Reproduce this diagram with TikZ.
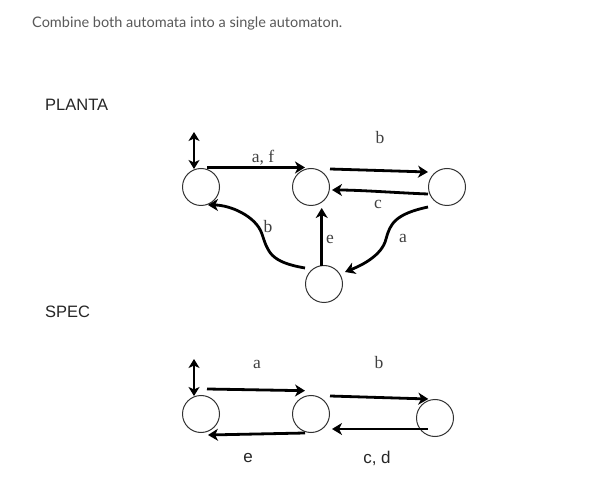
\documentclass[tikz,border=0pt]{standalone}
\usepackage{fontspec}
\setmainfont{Liberation Serif}
\newfontfamily\titlefont{Lato}
\newfontfamily\arialfont{Liberation Sans}
\usetikzlibrary{arrows.meta}
\begin{document}
\begin{tikzpicture}[x=1pt,y=1pt,
  state/.style={circle,draw=black!80,line width=1pt,minimum size=37pt,inner sep=0pt},
  edge/.style={line width=2.8pt,-{Stealth[length=10pt,width=12pt,inset=3pt]}},
  initarrow/.style={line width=2.8pt,{Stealth[length=9pt,width=11pt,inset=2.5pt]}-{Stealth[length=9pt,width=11pt,inset=2.5pt]}},
  lbl/.style={font=\fontsize{17.5}{19}\selectfont,text=black!75,inner sep=0pt},
  slbl/.style={font=\arialfont\fontsize{17}{19}\selectfont,text=black!85,inner sep=0pt},
  head/.style={font=\arialfont\fontsize{16.5}{18}\selectfont,text=black!85,inner sep=0pt,anchor=west}
]
\useasboundingbox (0,0) rectangle (601,484);
\fill[white] (0,0) rectangle (601,484);

\node[font=\titlefont\fontsize{14.5}{16}\selectfont,text=black!65,anchor=west,inner sep=0pt] (title) at (32,461) {Combine both automata into a single automaton.};
\node[head] (planta) at (45,379) {PLANTA};
\node[head] (spec) at (45,172) {SPEC};

% PLANTA
\node[state] (S0) at (201,297) {};
\node[state] (S1) at (311,297) {};
\node[state] (S2) at (447,297) {};
\node[state] (S3) at (324,200) {};
\coordinate (i0) at (194,352);
\draw[initarrow] (i0) -- ([shift={(-7,18)}]S0.center);

\draw[edge] ([shift={(6,19.5)}]S0.center) -- ([shift={(-6,19.5)}]S1.center);
\draw[edge] ([shift={(19,18)}]S1.center) -- ([shift={(-19,15)}]S2.center);
\draw[edge] ([shift={(-19,-7)}]S2.center) .. controls (400,291) and (360,294) .. ([shift={(21,-3)}]S1.center);
\draw[edge] ([shift={(-2.3,17.5)}]S3.center) -- ([shift={(10.7,-21)}]S1.center);
\draw[edge] ([shift={(-19,16)}]S3.center) .. controls (270,222) and (268,232) .. (262,250) .. controls (256,268) and (230,279) .. ([shift={(7,-18)}]S0.center);
\draw[edge] ([shift={(-19,-20)}]S2.center) .. controls (395,270) and (390,260) .. (386,245) .. controls (382,228) and (360,218) .. ([shift={(21,12)}]S3.center);

\node[lbl] (laf) at (263,326) {a, f};
\node[lbl] (lb1) at (380,346) {b};
\node[lbl] (lc) at (378,280) {c};
\node[lbl] (lb2) at (268,257) {b};
\node[lbl] (le) at (330,245) {e};
\node[lbl] (la) at (403,246) {a};

% SPEC
\node[state] (T0) at (201,70) {};
\node[state] (T1) at (311,70) {};
\node[state] (T2) at (435,66) {};
\coordinate (i1) at (194,125);
\draw[initarrow] (i1) -- ([shift={(-7,18)}]T0.center);

\draw[edge] ([shift={(6,25)}]T0.center) -- ([shift={(-6,23.3)}]T1.center);
\draw[edge] ([shift={(19,18)}]T1.center) -- ([shift={(-6.7,19)}]T2.center);
\draw[edge] ([shift={(-6,-19)}]T1.center) -- ([shift={(7,-21)}]T0.center);
\draw[edge] ([shift={(-7,-11)}]T2.center) -- ([shift={(21,-15)}]T1.center);

\node[lbl] (sa) at (257,120) {a};
\node[lbl] (sb) at (379,121) {b};
\node[slbl] (se) at (248,26) {e};
\node[slbl] (scd) at (377,26) {c, d};
\end{tikzpicture}
\end{document}
